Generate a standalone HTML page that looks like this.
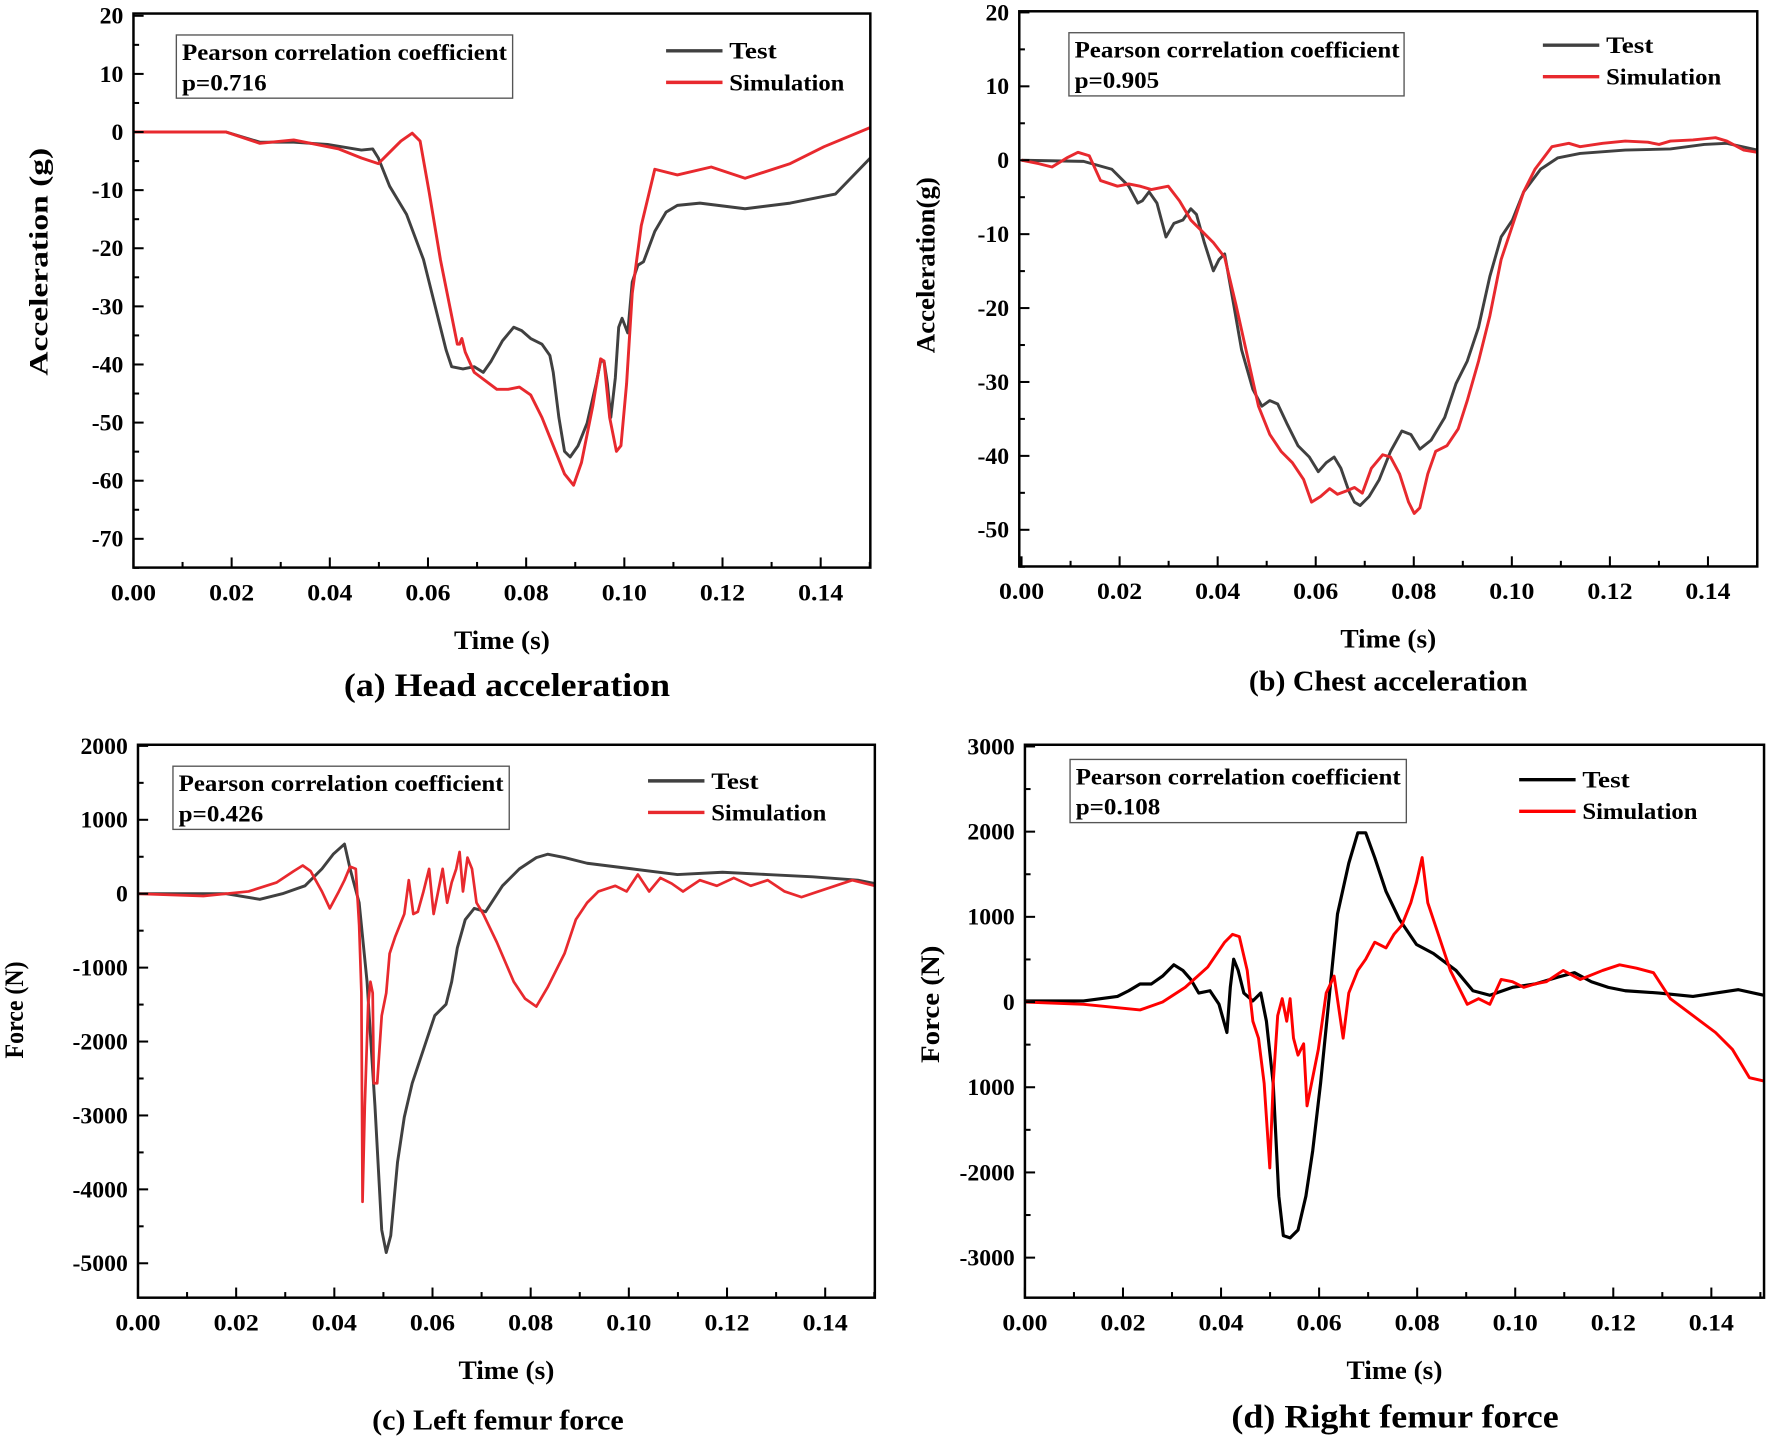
<!DOCTYPE html>
<html><head><meta charset="utf-8">
<style>
html,body{margin:0;padding:0;background:#fff;}
svg{display:block;}
text{font-family:"Liberation Serif",serif;font-weight:bold;fill:#000;}
</style></head>
<body>
<svg id="s" width="1770" height="1441" viewBox="0 0 1568 1277" xmlns="http://www.w3.org/2000/svg">
<rect width="1568" height="1277" fill="#fff"/>
<!-- (a) -->
<polyline fill="none" stroke="#404040" stroke-width="2.6" stroke-linejoin="round" points="118,117 200,117 230,126 260,126 290,128 320,133 330,132 335,140 345,165 360,190 375,230 385,270 395,310 400,325 410,327 420,325 428,330 435,320 445,302 455,290 462,293 470,300 480,305 487,315 490,330 495,370 500,400 505,405 512,395 520,375 528,340 532,320 535,320 538,340 541,370 545,335 548,290 551,282 556,295 560,250 565,235 570,232 580,205 590,188 600,182 620,180 660,185 700,180 740,172 771,140"/>
<polyline fill="none" stroke="#e8292e" stroke-width="2.6" stroke-linejoin="round" points="118,117 200,117 230,127 260,124 300,132 320,140 335,145 345,135 355,125 365,118 372,125 380,170 390,230 400,280 405,305 407,305 409,300 412,312 420,330 440,345 450,345 460,343 470,350 480,370 490,395 500,420 508,430 515,410 525,360 532,318 535,320 540,370 546,400 550,395 555,340 560,260 568,200 580,150 600,155 630,148 660,158 700,145 730,130 771,113"/>
<!-- (b) -->
<polyline fill="none" stroke="#404040" stroke-width="2.6" stroke-linejoin="round" points="905,142 960,143 985,150 1000,165 1008,180 1012,178 1018,170 1025,180 1033,210 1040,198 1048,195 1055,185 1060,190 1067,215 1075,240 1080,230 1085,225 1093,270 1100,310 1110,345 1118,360 1125,355 1132,358 1140,375 1150,395 1160,405 1168,418 1175,410 1182,405 1188,415 1195,435 1200,445 1205,448 1213,440 1222,425 1232,400 1242,382 1250,385 1258,398 1268,390 1280,370 1290,340 1300,320 1310,290 1320,245 1330,210 1340,195 1350,170 1365,150 1380,140 1400,136 1440,133 1480,132 1510,128 1530,127 1557,133"/>
<polyline fill="none" stroke="#e8292e" stroke-width="2.6" stroke-linejoin="round" points="905,142 920,145 932,148 945,140 955,135 965,138 975,160 990,165 1000,163 1010,165 1020,168 1035,165 1045,178 1055,195 1065,205 1075,215 1085,228 1095,270 1105,315 1115,360 1125,385 1135,400 1145,410 1155,425 1162,445 1170,440 1178,433 1185,438 1193,435 1200,432 1207,437 1215,415 1225,403 1232,405 1240,420 1248,445 1253,455 1258,450 1265,420 1272,400 1282,395 1292,380 1300,355 1310,320 1320,280 1330,230 1340,200 1350,170 1360,150 1375,130 1390,127 1400,130 1420,127 1440,125 1460,126 1470,128 1480,125 1500,124 1520,122 1530,125 1545,133 1557,135"/>
<!-- (c) -->
<polyline fill="none" stroke="#404040" stroke-width="2.6" stroke-linejoin="round" points="122,792 200,792 230,797 250,792 270,785 285,770 295,757 305,748 310,770 318,800 325,870 332,980 338,1090 342,1110 346,1095 352,1030 358,990 365,960 375,930 385,900 395,890 400,870 405,840 412,815 420,805 430,808 445,785 460,770 475,760 485,757 500,760 520,765 560,770 600,775 640,773 680,775 720,777 760,780 775,783"/>
<polyline fill="none" stroke="#e8292e" stroke-width="2.4" stroke-linejoin="round" points="122,792 180,794 220,790 245,782 260,772 268,767 275,772 285,790 292,805 300,790 305,780 310,768 315,770 318,820 320,880 321,1065 323,980 326,890 328,870 330,880 331,960 334,960 336,930 338,900 342,880 345,845 350,830 358,810 362,780 366,810 370,808 375,790 380,770 384,810 388,790 392,770 396,800 400,782 404,770 407,755 410,790 414,760 418,770 422,800 428,810 440,835 455,870 465,885 475,892 485,875 500,845 510,815 520,800 530,790 545,785 555,790 565,775 575,790 585,778 595,783 605,790 620,780 635,785 650,778 665,785 680,780 695,790 710,795 725,790 740,785 755,780 775,785"/>
<!-- (d) -->
<polyline fill="none" stroke="#000" stroke-width="2.8" stroke-linejoin="round" points="908,887 960,887 990,883 1000,878 1010,872 1020,872 1030,865 1040,855 1048,860 1055,868 1062,880 1072,878 1080,890 1087,915 1090,875 1093,850 1097,860 1102,880 1110,887 1117,880 1122,905 1128,960 1133,1060 1137,1095 1143,1097 1150,1090 1157,1060 1163,1020 1170,960 1178,880 1185,810 1195,765 1203,738 1210,738 1218,760 1228,790 1240,815 1255,837 1270,845 1290,860 1305,878 1320,882 1340,875 1360,872 1380,866 1395,862 1410,870 1425,875 1440,878 1470,880 1500,883 1540,877 1563,882"/>
<polyline fill="none" stroke="#f00" stroke-width="2.6" stroke-linejoin="round" points="908,888 960,890 990,893 1010,895 1030,888 1050,875 1070,857 1085,835 1092,828 1098,830 1105,860 1110,905 1115,920 1120,960 1125,1035 1128,960 1132,900 1136,885 1140,905 1143,885 1146,920 1150,935 1155,925 1158,980 1162,960 1168,930 1175,880 1182,865 1190,920 1195,880 1203,860 1210,850 1218,835 1228,840 1235,828 1242,820 1250,800 1255,782 1260,760 1265,800 1270,815 1275,830 1285,860 1295,880 1300,890 1310,885 1320,890 1330,868 1340,870 1350,875 1360,872 1370,870 1385,860 1400,868 1420,860 1435,855 1450,858 1465,862 1480,885 1500,900 1520,915 1535,930 1550,955 1563,958"/>
<g id="f"></g>
</svg>
<script>
var NS="http://www.w3.org/2000/svg",G=document.getElementById('f');
function el(t,a,txt){var e=document.createElementNS(NS,t);for(var k in a)e.setAttribute(k,a[k]);if(txt!=null)e.textContent=txt;G.appendChild(e);return e;}
function T(a,txt,len){if(len){a.textLength=len;a.lengthAdjust='spacingAndGlyphs';}return el('text',a,txt);}
function panel(p){
 el('rect',{x:p.x0,y:p.y0,width:p.x1-p.x0,height:p.y1-p.y0,fill:'none',stroke:'#000','stroke-width':2.2});
 for(var i=0;i<=15;i++){var x=p.xz+i*p.xs/2;var maj=i%2==0;
  el('line',{x1:x,x2:x,y1:p.y1,y2:p.y1-(maj?9:5),stroke:'#000','stroke-width':1.8});
  if(maj)T({x:x,y:p.y1+29,'font-size':21,'text-anchor':'middle'},(i/100).toFixed(2),40);}
 for(var v=p.ymax;v>=p.ymin;v-=p.ystep/2){var y=p.yz-v/p.ystep*p.ys;var maj=Math.abs(v%p.ystep)<1e-6;
  if(y>p.y1+1)continue;
  el('line',{x1:p.x0,x2:p.x0+(maj?9:5),y1:y,y2:y,stroke:'#000','stroke-width':1.8});
  if(maj&&v>=p.ylab)el('text',{x:p.x0-9,y:y+7,'font-size':21,'text-anchor':'end'},p.fmt?p.fmt(v):String(v));}
 T({x:(p.x0+p.x1)/2,y:p.y1+72,'font-size':23,'text-anchor':'middle'},'Time (s)',85);
 var yc=p.yc;
 T({x:p.yl,y:yc,'font-size':23,'text-anchor':'middle',transform:'rotate(-90 '+p.yl+' '+yc+')'},p.ytitle,p.ylen);
 el('rect',{x:p.bx,y:p.by,width:p.bw,height:56,fill:'#fff',stroke:'#555','stroke-width':1.2});
 T({x:p.bx+5,y:p.by+22,'font-size':21},'Pearson correlation coefficient',288);
 T({x:p.bx+5,y:p.by+49,'font-size':21},p.pv,75);
 el('line',{x1:p.lx,x2:p.lx+50,y1:p.ly,y2:p.ly,stroke:p.tc,'stroke-width':3});
 T({x:p.lx+56,y:p.ly+7,'font-size':21},'Test',42);
 el('line',{x1:p.lx,x2:p.lx+50,y1:p.ly+28,y2:p.ly+28,stroke:p.sc,'stroke-width':3});
 T({x:p.lx+56,y:p.ly+35,'font-size':21},'Simulation',102);
 T({x:p.tx,y:p.ty,'font-size':p.tfs,'text-anchor':'middle'},p.title,p.tlen);
}
panel({x0:118,x1:771,y0:12,y1:503,xz:118,xs:87,yz:117,ys:51.5,ystep:10,ymax:20,ymin:-75,ylab:-70,ytitle:'Acceleration (g)',yl:42,yc:232,ylen:202,
 bx:156,by:31,bw:298,pv:'p=0.716',lx:590,ly:45,tc:'#404040',sc:'#e8292e',title:'(a) Head acceleration',ty:617,tfs:29,tx:449,tlen:289});
panel({x0:903,x1:1557,y0:10,y1:502,xz:905,xs:86.9,yz:142,ys:65.5,ystep:10,ymax:20,ymin:-55,ylab:-50,ytitle:'Acceleration(g)',yl:828,yc:235,ylen:156,
 bx:947,by:29,bw:297,pv:'p=0.905',lx:1367,ly:40,tc:'#404040',sc:'#e8292e',title:'(b) Chest acceleration',ty:612,tfs:25,tx:1230,tlen:247});
panel({x0:122,x1:775,y0:660,y1:1150,xz:122,xs:87,yz:792,ys:65.5,ystep:1000,ymax:2000,ymin:-5500,ylab:-5000,ytitle:'Force (N)',yl:20,yc:895,ylen:86,
 bx:153,by:679,bw:298,pv:'p=0.426',lx:574,ly:692,tc:'#404040',sc:'#e8292e',title:'(c) Left femur force',ty:1267,tfs:25,tx:441,tlen:223});
panel({x0:908,x1:1563,y0:660,y1:1150,xz:908,xs:86.9,yz:888,ys:75.5,ystep:1000,ymax:3000,ymin:-3500,ylab:-3000,ytitle:'Force  (N)',yl:832,yc:890,ylen:104,
 bx:948,by:673,bw:298,pv:'p=0.108',lx:1346,ly:691,tc:'#000',sc:'#f00',title:'(d) Right femur force',ty:1265,tfs:29,tx:1236,tlen:290,
 fmt:function(v){return v==-1000?'1000':String(v);}});
</script>
</body></html>
